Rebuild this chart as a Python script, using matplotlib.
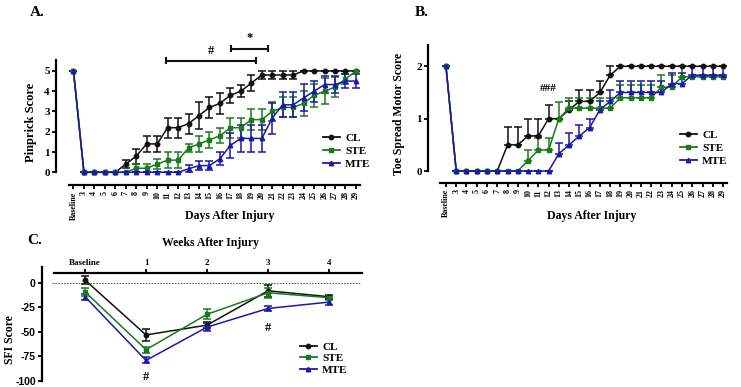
import matplotlib
matplotlib.use("Agg")
import matplotlib.pyplot as plt
from matplotlib.lines import Line2D
import numpy as np

W, H = 741, 387
DPI = 100

days = ["Baseline"] + [str(d) for d in range(3, 30)]

# Panel A: Pinprick score
pin_cl = [5, 0, 0, 0, 0, 0.4, 0.8, 1.4, 1.4, 2.2, 2.2, 2.4, 2.8, 3.2, 3.4, 3.8, 4.0, 4.4, 4.8, 4.8, 4.8, 4.8, 5, 5, 5, 5, 5, 5]
pin_cl_err = [0, 0, 0, 0, 0, 0.2, 0.37, 0.4, 0.4, 0.5, 0.5, 0.5, 0.66, 0.5, 0.5, 0.37, 0.3, 0.4, 0.2, 0.2, 0.2, 0.2, 0, 0, 0, 0, 0, 0]
pin_ste = [5, 0, 0, 0, 0, 0, 0.2, 0.2, 0.4, 0.6, 0.6, 1.2, 1.4, 1.6, 1.8, 2.2, 2.2, 2.6, 2.6, 3.0, 3.2, 3.2, 3.4, 3.8, 4.0, 4.2, 4.6, 5.0]
pin_ste_err = [0, 0, 0, 0, 0, 0, 0.2, 0.2, 0.24, 0.4, 0.4, 0.2, 0.4, 0.4, 0.37, 0.49, 0.49, 0.51, 0.51, 0.45, 0.49, 0.49, 0.6, 0.58, 0.63, 0.49, 0.24, 0]
pin_mte = [5, 0, 0, 0, 0, 0, 0, 0, 0, 0, 0, 0.17, 0.33, 0.33, 0.67, 1.33, 1.67, 1.67, 1.67, 2.67, 3.33, 3.33, 3.67, 4.0, 4.33, 4.33, 4.5, 4.5]
pin_mte_err = [0, 0, 0, 0, 0, 0, 0, 0, 0, 0, 0, 0.17, 0.21, 0.21, 0.33, 0.61, 0.67, 0.67, 0.67, 0.76, 0.61, 0.61, 0.67, 0.52, 0.42, 0.42, 0.34, 0.34]

# Panel B: Toe spread motor score
toe_cl = [2, 0, 0, 0, 0, 0, 0.5, 0.5, 0.67, 0.67, 1.0, 1.0, 1.17, 1.33, 1.33, 1.5, 1.83, 2, 2, 2, 2, 2, 2, 2, 2, 2, 2, 2]
toe_cl_err = [0, 0, 0, 0, 0, 0, 0.34, 0.34, 0.33, 0.33, 0.26, 0, 0.17, 0.21, 0.21, 0.22, 0.17, 0, 0, 0, 0, 0, 0, 0, 0, 0, 0, 0]
toe_ste = [2, 0, 0, 0, 0, 0, 0, 0, 0.2, 0.4, 0.4, 1.0, 1.2, 1.2, 1.2, 1.2, 1.2, 1.4, 1.4, 1.4, 1.4, 1.6, 1.6, 1.8, 1.8, 1.8, 1.8, 1.8]
toe_ste_err = [0, 0, 0, 0, 0, 0, 0, 0, 0.2, 0.24, 0.24, 0.32, 0.2, 0.2, 0.2, 0.2, 0.2, 0.24, 0.24, 0.24, 0.24, 0.24, 0.24, 0.2, 0, 0, 0, 0]
toe_mte = [2, 0, 0, 0, 0, 0, 0, 0, 0, 0, 0, 0.33, 0.5, 0.67, 0.83, 1.17, 1.33, 1.5, 1.5, 1.5, 1.5, 1.5, 1.67, 1.67, 1.83, 1.83, 1.83, 1.83]
toe_mte_err = [0, 0, 0, 0, 0, 0, 0, 0, 0, 0, 0, 0.21, 0.22, 0.21, 0.17, 0.17, 0.21, 0.22, 0.22, 0.22, 0.22, 0.22, 0.21, 0.21, 0.17, 0.17, 0.17, 0.17]

# Panel C: SFI score
weeks = ["Baseline", "1", "2", "3", "4"]
sfi_cl = [3, -53, -43, -8, -14]
sfi_cl_err = [4, 6, 3, 6, 2]
sfi_ste = [-9, -68, -32, -10, -15]
sfi_ste_err = [4, 3, 5, 5, 2]
sfi_mte = [-14, -79, -45, -26, -19.5]
sfi_mte_err = [3, 3, 4, 3, 3]

BLACK = "#111111"
GREEN = "#1b7a1b"
BLUE = "#1a1aa8"
SERIF = "Liberation Serif"
SANS = "Liberation Sans"

plt.rcParams["font.family"] = SERIF
plt.rcParams["font.weight"] = "bold"

fig = plt.figure(figsize=(W / DPI, H / DPI), dpi=DPI)


def axes_px(left, top, right, bottom):
    return fig.add_axes([left / W, 1 - bottom / H, (right - left) / W, (bottom - top) / H])


def style(ax):
    for s in ["top", "right"]:
        ax.spines[s].set_visible(False)
    for s in ["left", "bottom"]:
        ax.spines[s].set_linewidth(1.6)
    ax.tick_params(width=1.3, length=3, direction="out", pad=1.5)


series_styles = [
    ("CL", BLACK, "o"),
    ("STE", GREEN, "s"),
    ("MTE", BLUE, "^"),
]


def plot_series(ax, x, ys, errs, upper_only=False):
    for (lab, col, mk), y, e in zip(series_styles, ys, errs):
        e = np.asarray(e, dtype=float)
        yerr = [np.zeros_like(e), e] if upper_only else e
        ax.errorbar(x, y, yerr=yerr, color=col, marker=mk, markersize=3.2,
                    linewidth=1.1, elinewidth=1.1, capsize=2.6, capthick=1.1,
                    clip_on=False)


def add_legend(ax, x_px, y_px, spacing=0.3):
    handles = [Line2D([0], [0], color=col, marker=mk, markersize=3.2, lw=1.3, label=lab)
               for lab, col, mk in series_styles]
    leg = ax.legend(handles=handles, loc="upper left", bbox_to_anchor=(x_px / W, 1 - y_px / H),
                    bbox_transform=fig.transFigure, frameon=False, fontsize=8,
                    handlelength=1.5, handletextpad=0.5, labelspacing=spacing,
                    borderaxespad=0, borderpad=0)
    for t in leg.get_texts():
        t.set_fontweight("bold")
    return leg


# ---------------- Panel A ----------------
axA = axes_px(56, 60, 362, 185)
xA = np.arange(len(days))
plot_series(axA, xA, [pin_cl, pin_ste, pin_mte], [pin_cl_err, pin_ste_err, pin_mte_err])
axA.set_xlim(-1.67, 27.58)
axA.set_ylim(-0.627, 5.54)
style(axA)
axA.spines["left"].set_bounds(0, 5.54)
axA.spines["bottom"].set_bounds(-0.45, 27.4)
axA.set_yticks([0, 1, 2, 3, 4, 5])
axA.set_yticklabels(["0", "1", "2", "3", "4", "5"], fontsize=8, fontweight="bold")
axA.set_xticks(xA)
axA.set_xticklabels(days, rotation=90, fontsize=5.8, fontweight="bold")
axA.set_ylabel("Pinprick Score", fontsize=9, fontweight="bold", labelpad=5)
add_legend(axA, 323, 133)
# significance brackets
for (x0, x1, yb, txt, ty, fs) in [(8.8, 17.4, 5.5, "#", 6.0, 9), (15.1, 18.6, 6.1, "*", 6.65, 9)]:
    axA.plot([x0, x1], [yb, yb], color=BLACK, lw=1.5, clip_on=False)
    axA.plot([x0, x0], [yb - 0.12, yb + 0.12], color=BLACK, lw=1.5, clip_on=False)
    axA.plot([x1, x1], [yb - 0.12, yb + 0.12], color=BLACK, lw=1.5, clip_on=False)
    axA.text((x0 + x1) / 2, ty, txt, ha="center", va="center", fontsize=fs, fontweight="bold", clip_on=False)

# ---------------- Panel B ----------------
axB = axes_px(428, 45, 733, 183)
plot_series(axB, xA, [toe_cl, toe_ste, toe_mte], [toe_cl_err, toe_ste_err, toe_mte_err], upper_only=True)
axB.set_xlim(-1.75, 27.97)
axB.set_ylim(-0.229, 2.407)
style(axB)
axB.spines["left"].set_bounds(0, 2.407)
axB.spines["bottom"].set_bounds(-0.58, 27.4)
axB.set_yticks([0, 1, 2])
axB.set_yticklabels(["0", "1", "2"], fontsize=8, fontweight="bold")
axB.set_xticks(xA)
axB.set_xticklabels(days, rotation=90, fontsize=5.8, fontweight="bold")
axB.set_ylabel("Toe Spread Motor Score", fontsize=8.5, fontweight="bold", labelpad=8)
add_legend(axB, 680, 130)
axB.text(10.0, 1.57, "###", ha="center", va="center", fontsize=8, fontweight="bold")

# ---------------- Panel C ----------------
axC = axes_px(42, 267, 362, 381)
xC = np.arange(len(weeks))
axC.axhline(0, xmin=0.03, xmax=0.995, color="#444444", lw=0.7, ls=(0, (1.5, 1.5)))
plot_series(axC, xC, [sfi_cl, sfi_ste, sfi_mte], [sfi_cl_err, sfi_ste_err, sfi_mte_err])
axC.set_xlim(-0.705, 4.54)
axC.set_ylim(-100, 16.3)
axC.spines["right"].set_visible(False)
axC.spines["bottom"].set_visible(False)
axC.spines["left"].set_linewidth(1.6)
axC.spines["top"].set_linewidth(1.6)
axC.spines["top"].set_position(("data", 10.2))
axC.spines["top"].set_bounds(-0.51, 4.54)
axC.xaxis.set_ticks_position("top")
axC.tick_params(width=1.3, length=3, direction="out", pad=1.5)
axC.set_xticks(xC)
axC.set_xticklabels(weeks, fontsize=6.5, fontweight="bold")
axC.set_yticks([0, -25, -50, -75, -100])
axC.set_yticklabels(["0", "-25", "-50", "-75", "-100"], fontsize=7.5, fontweight="bold", family=SANS)
add_legend(axC, 300, 342, spacing=0.15)
axC.text(1, -96, "#", ha="center", va="center", fontsize=9, fontweight="bold", clip_on=False)
axC.text(3, -46, "#", ha="center", va="center", fontsize=9, fontweight="bold")

# ---------------- Figure texts ----------------
fig.text(10 / W, 1 - 340 / H, "SFI Score", ha="center", va="center", rotation=90, fontsize=8.5, fontweight="bold")
fig.text(230 / W, 1 - 216 / H, "Days After Injury", ha="center", va="center", fontsize=8.5, fontweight="bold")
fig.text(592 / W, 1 - 216 / H, "Days After Injury", ha="center", va="center", fontsize=8.5, fontweight="bold")
fig.text(210 / W, 1 - 243 / H, "Weeks After Injury", ha="center", va="center", fontsize=8.5, fontweight="bold")
fig.text(30 / W, 1 - 12 / H, "A.", ha="left", va="center", fontsize=11, fontweight="bold")
fig.text(415 / W, 1 - 12 / H, "B.", ha="left", va="center", fontsize=11, fontweight="bold")
fig.text(27 / W, 1 - 241 / H, "C.", ha="left", va="center", fontsize=11, fontweight="bold")

fig.savefig("out.png", dpi=DPI)
